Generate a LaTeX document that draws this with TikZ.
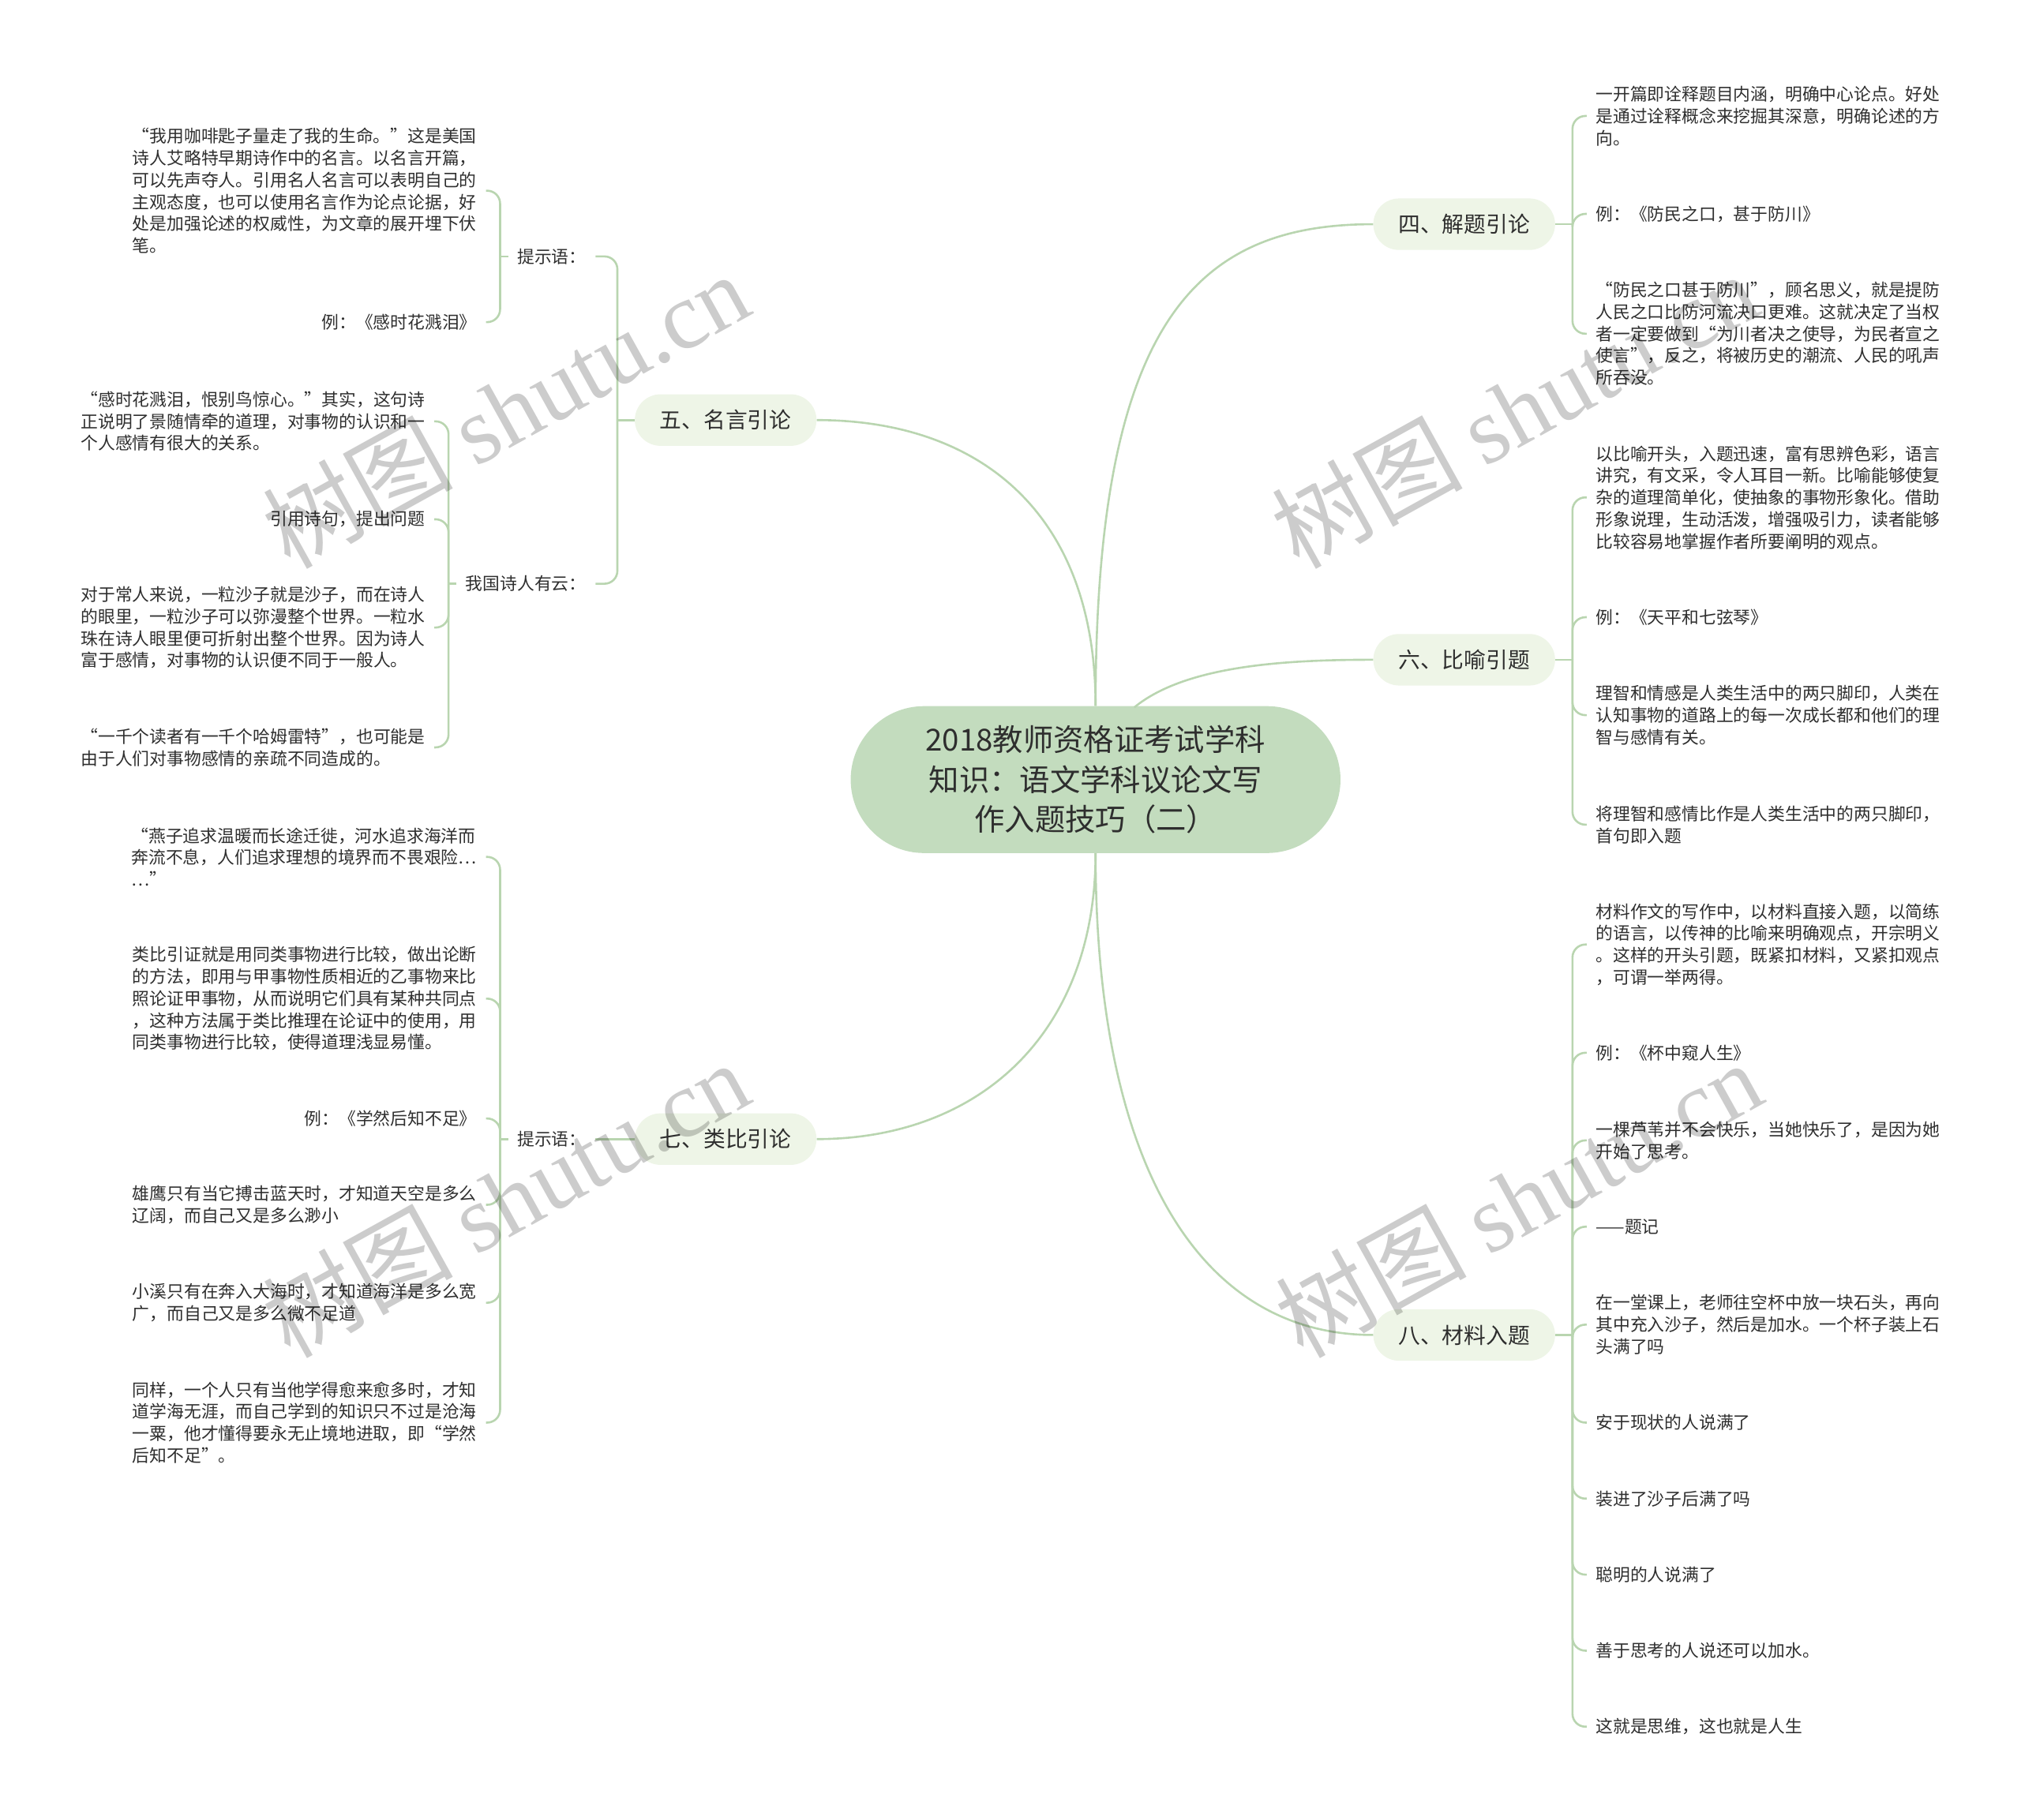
\documentclass[tikz,border=0pt]{standalone}
\usepackage{fontspec}
\setmainfont{Noto Sans CJK SC}
\newfontfamily\wmlatin{Liberation Serif}

\definecolor{linkgreen}{HTML}{B9D5B0}
\definecolor{rootfill}{HTML}{C3DCBE}
\definecolor{branchfill}{HTML}{EEF5E7}
\definecolor{inkgray}{HTML}{2E2E2E}

\newcommand{\rootsize}{\fontsize{23.5}{31}\selectfont}
\newcommand{\branchsize}{\fontsize{17}{20}\selectfont}
\newcommand{\leafsize}{\fontsize{13.35}{17}\selectfont}

\begin{document}
\begin{tikzpicture}[x=1pt, y=-1pt,
    link/.style={draw=linkgreen, line width=1.6pt},
    hook/.style={link, rounded corners=10pt},
    rootbox/.style={fill=rootfill, rounded corners=57pt, minimum width=380pt,
        minimum height=114pt, align=center, text=inkgray, font=\rootsize},
    branch/.style={fill=branchfill, rounded corners=20pt, minimum width=141pt,
        minimum height=40pt, text=inkgray, font=\branchsize},
    leafR/.style={anchor=west, align=left, inner xsep=7pt, inner ysep=1pt,
        text=inkgray, font=\leafsize},
    leafL/.style={leafR, anchor=east},
    wmtext/.style={text=black, text opacity=0.2, font=\fontsize{74}{80}\selectfont}]

    \useasboundingbox (0,0) rectangle (1568,1412);

    % --- Root ---
    \node[rootbox] (root) at (850,605)
        {2018教师资格证考试学科\\知识：语文学科议论文写\\作入题技巧（二）};
    \coordinate (rootR) at (880,549);

    % --- Main branches ---
    \node[branch] (b4) at (1136,174) {四、解题引论};
    \node[branch] (b5) at (563,326)  {五、名言引论};
    \node[branch] (b6) at (1136,512) {六、比喻引题};
    \node[branch] (b7) at (563,884)  {七、类比引论};
    \node[branch] (b8) at (1136,1036) {八、材料入题};

    \draw[link] (root.north) .. controls +(0,-300) and +(-136,0) .. (b4.west);
    \draw[link] (root.north) .. controls +(0,-150) and +(126,0) .. (b5.east);
    \draw[link] (rootR) .. controls +(40,-33) and +(-66,0) .. (b6.west);
    \draw[link] (root.south) .. controls +(0,140) and +(126,0) .. (b7.east);
    \draw[link] (root.south) .. controls +(0,240) and +(-136,0) .. (b8.west);

    % --- 4: 解题引论 ---
    \coordinate (j4) at (1220,174);
    \node[leafR] (s4a) at (1231,90)
        {一开篇即诠释题目内涵，明确中心论点。好处\\是通过诠释概念来挖掘其深意，明确论述的方\\向。};
    \node[leafR] (s4b) at (1231,166) {例：《防民之口，甚于防川》};
    \node[leafR] (s4c) at (1231,259)
        {“防民之口甚于防川”，顾名思义，就是提防\\人民之口比防河流决口更难。这就决定了当权\\者一定要做到“为川者决之使导，为民者宣之\\使言”，反之，将被历史的潮流、人民的吼声\\所吞没。};
    \draw[link] (b4.east) -- (j4);
    \foreach \n in {s4a,s4b,s4c} \draw[hook] (j4) |- (\n.west);

    % --- 6: 比喻引题 ---
    \coordinate (j6) at (1220,512);
    \node[leafR] (s6a) at (1231,386)
        {以比喻开头，入题迅速，富有思辨色彩，语言\\讲究，有文采，令人耳目一新。比喻能够使复\\杂的道理简单化，使抽象的事物形象化。借助\\形象说理，生动活泼，增强吸引力，读者能够\\比较容易地掌握作者所要阐明的观点。};
    \node[leafR] (s6b) at (1231,479) {例：《天平和七弦琴》};
    \node[leafR] (s6c) at (1231,555)
        {理智和情感是人类生活中的两只脚印，人类在\\认知事物的道路上的每一次成长都和他们的理\\智与感情有关。};
    \node[leafR] (s6d) at (1231,640)
        {将理智和感情比作是人类生活中的两只脚印，\\首句即入题};
    \draw[link] (b6.east) -- (j6);
    \foreach \n in {s6a,s6b,s6c,s6d} \draw[hook] (j6) |- (\n.west);

    % --- 8: 材料入题 ---
    \coordinate (j8) at (1220,1036);
    \node[leafR] (s8a) at (1231,733)
        {材料作文的写作中，以材料直接入题，以简练\\的语言，以传神的比喻来明确观点，开宗明义\\。这样的开头引题，既紧扣材料，又紧扣观点\\，可谓一举两得。};
    \node[leafR] (s8b) at (1231,817) {例：《杯中窥人生》};
    \node[leafR] (s8c) at (1231,885)
        {一棵芦苇并不会快乐，当她快乐了，是因为她\\开始了思考。};
    \node[leafR] (s8d) at (1231,952) {——题记};
    \node[leafR] (s8e) at (1231,1028)
        {在一堂课上，老师往空杯中放一块石头，再向\\其中充入沙子，然后是加水。一个杯子装上石\\头满了吗};
    \node[leafR] (s8f) at (1231,1104) {安于现状的人说满了};
    \node[leafR] (s8g) at (1231,1163) {装进了沙子后满了吗};
    \node[leafR] (s8h) at (1231,1222) {聪明的人说满了};
    \node[leafR] (s8i) at (1231,1281) {善于思考的人说还可以加水。};
    \node[leafR] (s8j) at (1231,1340) {这就是思维，这也就是人生};
    \draw[link] (b8.east) -- (j8);
    \foreach \n in {s8a,s8b,s8c,s8d,s8e,s8f,s8g,s8h,s8i,s8j}
        \draw[hook] (j8) |- (\n.west);

    % --- 5: 名言引论 ---
    \coordinate (j5) at (479,326);
    \node[leafL] (t5a) at (462,199) {提示语：};
    \node[leafL] (t5b) at (462,453) {我国诗人有云：};
    \draw[link] (b5.west) -- (j5);
    \foreach \n in {t5a,t5b} \draw[hook] (j5) |- (\n.east);

    \coordinate (j5a) at (388,199);
    \node[leafL] (l5a) at (377,148)
        {“我用咖啡匙子量走了我的生命。”这是美国\\诗人艾略特早期诗作中的名言。以名言开篇，\\可以先声夺人。引用名人名言可以表明自己的\\主观态度，也可以使用名言作为论点论据，好\\处是加强论述的权威性，为文章的展开埋下伏\\笔。};
    \node[leafL] (l5b) at (377,250) {例：《感时花溅泪》};
    \draw[link] (t5a.west) -- (j5a);
    \foreach \n in {l5a,l5b} \draw[hook] (j5a) |- (\n.east);

    \coordinate (j5b) at (348,453);
    \node[leafL] (l5c) at (337,327)
        {“感时花溅泪，恨别鸟惊心。”其实，这句诗\\正说明了景随情牵的道理，对事物的认识和一\\个人感情有很大的关系。};
    \node[leafL] (l5d) at (337,403) {引用诗句，提出问题};
    \node[leafL] (l5e) at (337,487)
        {对于常人来说，一粒沙子就是沙子，而在诗人\\的眼里，一粒沙子可以弥漫整个世界。一粒水\\珠在诗人眼里便可折射出整个世界。因为诗人\\富于感情，对事物的认识便不同于一般人。};
    \node[leafL] (l5f) at (337,580)
        {“一千个读者有一千个哈姆雷特”，也可能是\\由于人们对事物感情的亲疏不同造成的。};
    \draw[link] (t5b.west) -- (j5b);
    \foreach \n in {l5c,l5d,l5e,l5f} \draw[hook] (j5b) |- (\n.east);

    % --- 7: 类比引论 ---
    \coordinate (j7) at (388,884);
    \node[leafL] (t7) at (462,884) {提示语：};
    \draw[link] (b7.west) -- (t7.east);
    \draw[link] (t7.west) -- (j7);
    \node[leafL] (l7a) at (377,665)
        {“燕子追求温暖而长途迁徙，河水追求海洋而\\奔流不息，人们追求理想的境界而不畏艰险…\\…”};
    \node[leafL] (l7b) at (377,775)
        {类比引证就是用同类事物进行比较，做出论断\\的方法，即用与甲事物性质相近的乙事物来比\\照论证甲事物，从而说明它们具有某种共同点\\，这种方法属于类比推理在论证中的使用，用\\同类事物进行比较，使得道理浅显易懂。};
    \node[leafL] (l7c) at (377,868) {例：《学然后知不足》};
    \node[leafL] (l7d) at (377,935)
        {雄鹰只有当它搏击蓝天时，才知道天空是多么\\辽阔，而自己又是多么渺小};
    \node[leafL] (l7e) at (377,1011)
        {小溪只有在奔入大海时，才知道海洋是多么宽\\广，而自己又是多么微不足道};
    \node[leafL] (l7f) at (377,1104)
        {同样，一个人只有当他学得愈来愈多时，才知\\道学海无涯，而自己学到的知识只不过是沧海\\一粟，他才懂得要永无止境地进取，即“学然\\后知不足”。};
    \foreach \n in {l7a,l7b,l7c,l7d,l7e,l7f} \draw[hook] (j7) |- (\n.east);

    % --- Watermarks ---
    \foreach \wx/\wy in {392/318, 1175/318, 392/930, 1178/930}
        \node[wmtext, rotate=29] (wm) at (\wx,\wy) {树图 {\wmlatin shutu.cn}};
\end{tikzpicture}
\end{document}
